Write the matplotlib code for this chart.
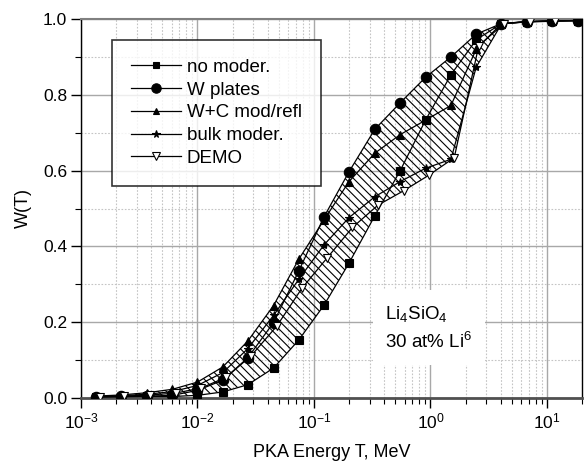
import numpy as np
import matplotlib
matplotlib.use("Agg")
import matplotlib.pyplot as plt
from matplotlib.ticker import LogLocator, FixedLocator, FormatStrFormatter, NullFormatter

plt.rcParams['font.family'] = ['Liberation Sans', 'DejaVu Sans']
plt.rcParams['mathtext.fontset'] = 'custom'
plt.rcParams['mathtext.rm'] = 'Liberation Sans'
plt.rcParams['mathtext.it'] = 'Liberation Sans'
plt.rcParams['mathtext.bf'] = 'Liberation Sans'
plt.rcParams['hatch.linewidth'] = 0.8

# ---- data (PKA energy in MeV, W(T)) ----
energy = [1.35e-3, 2.2e-3, 3.7e-3, 6.1e-3, 1.0e-2, 1.65e-2, 2.7e-2, 4.5e-2, 7.4e-2,
          0.122, 0.2, 0.333, 0.55, 0.907, 1.5, 2.47, 4.07, 6.7, 11.1, 18.3]
energy_demo = [1.45e-3, 2.35e-3, 3.95e-3, 6.5e-3, 1.07e-2, 1.77e-2, 2.9e-2, 4.8e-2, 7.9e-2,
               0.13, 0.214, 0.355, 0.59, 0.97, 1.6, 2.6, 4.3, 7.1, 11.8]

no_moder = [0.003, 0.003, 0.004, 0.004, 0.007, 0.016, 0.035, 0.079, 0.153, 0.245,
            0.356, 0.481, 0.600, 0.733, 0.853, 0.945, 0.988, 0.993, 0.995, 0.996]
w_plates = [0.003, 0.004, 0.005, 0.007, 0.020, 0.047, 0.106, 0.199, 0.335, 0.478,
            0.597, 0.709, 0.779, 0.846, 0.900, 0.960, 0.988, 0.992, 0.994, 0.995]
wc_mod = [0.005, 0.008, 0.014, 0.023, 0.042, 0.082, 0.150, 0.244, 0.366, 0.470,
          0.571, 0.646, 0.695, 0.733, 0.772, 0.920, 0.988, 0.993, 0.995, 0.996]
bulk_moder = [0.004, 0.006, 0.010, 0.017, 0.033, 0.067, 0.130, 0.218, 0.313, 0.404,
              0.476, 0.531, 0.571, 0.606, 0.630, 0.873, 0.987, 0.993, 0.995, 0.996]
demo = [0.003, 0.005, 0.008, 0.013, 0.026, 0.055, 0.112, 0.190, 0.290, 0.370,
        0.450, 0.509, 0.547, 0.588, 0.634, 0.930, 0.988, 0.993, 0.995]

labels = ['no moder.', 'W plates', 'W+C mod/refl', 'bulk moder.', 'DEMO']

fig = plt.figure(figsize=(5.84, 4.62), dpi=100)
ax = fig.add_axes([81/584, 64/462, 501/584, 379/462])

ax.set_xscale('log')
ax.set_xlim(1e-3, 20)
ax.set_ylim(0, 1.0)

# grids
ax.xaxis.set_major_locator(LogLocator(base=10, numticks=10))
ax.xaxis.set_minor_locator(LogLocator(base=10, subs=np.arange(2, 10), numticks=20))
ax.xaxis.set_minor_formatter(NullFormatter())
ax.yaxis.set_major_locator(FixedLocator([0, 0.2, 0.4, 0.6, 0.8, 1.0]))
ax.yaxis.set_minor_locator(FixedLocator([0.1, 0.3, 0.5, 0.7, 0.9]))
ax.yaxis.set_major_formatter(FormatStrFormatter('%.1f'))
ax.grid(True, which='major', color='#a8a8a8', linewidth=1.0, linestyle='-')
ax.grid(True, which='minor', color='#c4c4c4', linewidth=0.8, linestyle=(0, (1.5, 1.5)))
ax.set_axisbelow(True)

# hatched envelope
series_x = [energy, energy, energy, energy, energy_demo]
series_y = [no_moder, w_plates, wc_mod, bulk_moder, demo]
fine = np.logspace(np.log10(energy[0]), np.log10(energy[-1]), 800)
interp = []
for xs, ys in zip(series_x, series_y):
    lx = np.log10(xs)
    vals = np.interp(np.log10(fine), lx, ys, left=np.nan, right=np.nan)
    interp.append(vals)
interp = np.array(interp)
upper = np.nanmax(interp, axis=0)
lower = np.nanmin(interp, axis=0)
ax.fill_between(fine, lower, upper, facecolor='none', edgecolor='black',
                hatch='\\\\\\\\', linewidth=0, zorder=2)

markers = ['s', 'o', '^', '*', 'v']
msizes = [5.5, 7.5, 5.5, 6.0, 6.0]
faces = ['black', 'black', 'black', 'black', 'white']
for xs, ys, m, ms, fc, lab in zip(series_x, series_y, markers, msizes, faces, labels):
    ax.plot(xs, ys, color='black', linewidth=0.9, marker=m, markersize=ms,
            markerfacecolor=fc, markeredgecolor='black', markeredgewidth=0.8,
            label=lab, zorder=3)

# spines and ticks
for s in ['left', 'right']:
    ax.spines[s].set_color('black')
    ax.spines[s].set_linewidth(1.0)
ax.spines['bottom'].set_color('#505050')
ax.spines['bottom'].set_linewidth(2.0)
ax.spines['top'].set_color('#808080')
ax.spines['top'].set_linewidth(1.5)
ax.tick_params(axis='both', which='major', direction='out', length=7, width=1.0,
               labelsize=12.5, pad=3)
ax.tick_params(axis='both', which='minor', direction='out', length=4, width=0.8)

ax.set_xlabel('PKA Energy T, MeV', fontsize=13, labelpad=9)
ax.set_ylabel('W(T)', fontsize=13, labelpad=8)

leg = ax.legend(loc='upper left', bbox_to_anchor=(31/501, 1 - 21/379), ncol=1,
                fontsize=13.5, frameon=True, fancybox=False, shadow=False,
                numpoints=1, handlelength=2.7, handletextpad=0.3,
                labelspacing=0.3, borderpad=1.0, borderaxespad=0,
                markerscale=0.9)
leg.get_frame().set_edgecolor('black')
leg.get_frame().set_linewidth(1.2)
leg.set_zorder(5)

ax.text(0.41, 0.185, 'Li$_4$SiO$_4$\n30 at% Li$^6$', transform=ax.transData,
        fontsize=13.5, ha='left', va='center', linespacing=1.5,
        bbox=dict(facecolor='white', edgecolor='none', pad=9), zorder=4)

fig.savefig('out.png', dpi=100)
